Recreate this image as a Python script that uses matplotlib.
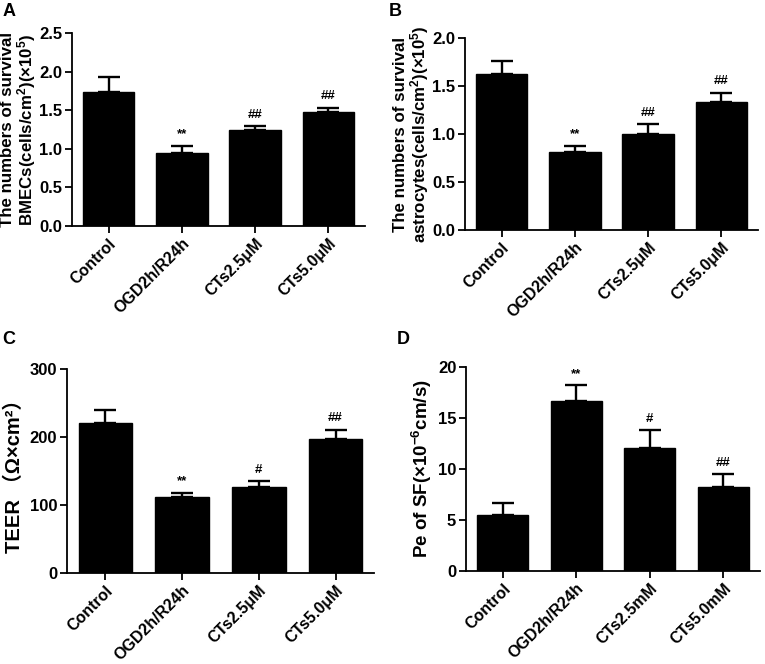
import matplotlib
matplotlib.use("Agg")
import matplotlib.pyplot as plt
import numpy as np

plt.rcParams['font.family'] = ['Liberation Sans', 'DejaVu Sans', 'Noto Sans CJK SC']
plt.rcParams['font.weight'] = 'bold'
plt.rcParams['mathtext.fontset'] = 'custom'
plt.rcParams['mathtext.rm'] = 'Liberation Sans:bold'
plt.rcParams['mathtext.it'] = 'Liberation Sans:bold'
plt.rcParams['mathtext.bf'] = 'Liberation Sans:bold'

groups_um = ["Control", "OGD2h/R24h", "CTs2.5μM", "CTs5.0μM"]
groups_mm = ["Control", "OGD2h/R24h", "CTs2.5mM", "CTs5.0mM"]

a_mean = [1.74, 0.95, 1.24, 1.48]
a_err = [0.19, 0.09, 0.05, 0.05]
a_sig = ["", "**", "##", "##"]

b_mean = [1.63, 0.81, 1.00, 1.33]
b_err = [0.13, 0.07, 0.10, 0.10]
b_sig = ["", "**", "##", "##"]

c_mean = [220, 112, 127, 197]
c_err = [19, 6, 8, 14]
c_sig = ["", "**", "#", "##"]

d_mean = [5.5, 16.7, 12.1, 8.2]
d_err = [1.2, 1.5, 1.7, 1.3]
d_sig = ["", "**", "#", "##"]

W, H = 765, 664
fig = plt.figure(figsize=(W / 100, H / 100), dpi=100)


def px_axes(x0, x1, ytop, ybot):
    return fig.add_axes([x0 / W, 1 - ybot / H, (x1 - x0) / W, (ybot - ytop) / H])


def panel(ax, labels, mean, err, sig, yticks, fmt, ylabel, letter, lx, ly,
          ylabsize=12.2, labelpad=1):
    x = np.arange(len(mean))
    ax.bar(x, mean, width=0.7, color='black', edgecolor='black', zorder=2)
    ax.errorbar(x, mean, yerr=[np.zeros(len(err)), err], fmt='none', ecolor='black',
                elinewidth=1.7, capsize=8, capthick=1.7, zorder=1)
    for xi, m, e, s in zip(x, mean, err, sig):
        if s:
            ax.annotate(s, (xi, m + e), xytext=(0, 4), textcoords='offset points',
                        ha='center', va='bottom', fontsize=9.5, fontweight='bold')
    ax.set_xlim(-0.5, 3.5)
    ax.set_ylim(yticks[0], yticks[-1])
    ax.set_yticks(yticks)
    ax.set_yticklabels([fmt.format(v) for v in yticks], fontsize=12, fontweight='bold')
    ax.set_xticks(x)
    ax.set_xticklabels(labels, rotation=45, ha='right', rotation_mode='anchor',
                       fontsize=11.5, fontweight='bold')
    for s in ['top', 'right']:
        ax.spines[s].set_visible(False)
    for s in ['left', 'bottom']:
        ax.spines[s].set_linewidth(1.3)
    ax.tick_params(axis='both', direction='out', length=5, width=1.3, pad=2)
    ax.set_ylabel(ylabel, fontsize=ylabsize, fontweight='bold', labelpad=labelpad,
                  linespacing=1.0)
    fig.text(lx / W, 1 - ly / H, letter, fontsize=13, fontweight='bold', ha='left', va='top')


axA = px_axes(72, 365, 33, 226)
panel(axA, groups_um, a_mean, a_err, a_sig, [0, 0.5, 1.0, 1.5, 2.0, 2.5], "{:.1f}",
      "The numbers of survival\nBMECs(cells/cm$^2$)(×10$^5$)", "A", 3, 3)

axB = px_axes(465, 758, 38, 230)
panel(axB, groups_um, b_mean, b_err, b_sig, [0, 0.5, 1.0, 1.5, 2.0], "{:.1f}",
      "The numbers of survival\nastrocytes(cells/cm$^2$)(×10$^5$)", "B", 389, 3)

axC = px_axes(67, 374, 369, 573)
panel(axC, groups_um, c_mean, c_err, c_sig, [0, 100, 200, 300], "{:.0f}",
      "TEER （Ω×cm²）", "C", 2, 331, ylabsize=14.5, labelpad=4)

axD = px_axes(466, 760, 367, 571)
panel(axD, groups_mm, d_mean, d_err, d_sig, [0, 5, 10, 15, 20], "{:.0f}",
      "Pe of SF(×10$^{-6}$cm/s)", "D", 397, 331, ylabsize=13.5, labelpad=3)

fig.savefig("out.png", dpi=100)
